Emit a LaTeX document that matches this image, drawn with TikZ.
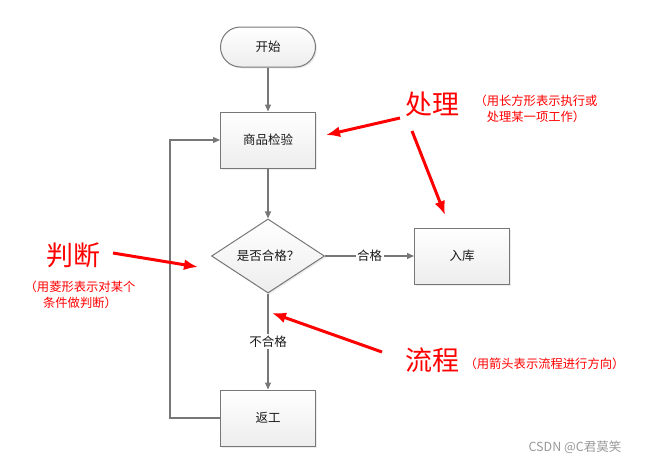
\documentclass[tikz,border=0pt]{standalone}
\usepackage{fontspec}
\setmainfont{Noto Sans CJK SC}
\usepackage{xcolor}
\usepackage{tikz}
\usetikzlibrary{shapes.geometric, arrows.meta, positioning, shadows}
\definecolor{edgegray}{HTML}{777777}
\definecolor{boxgray}{HTML}{EDEDED}
\definecolor{txtgray}{HTML}{1A1A1A}

\begin{document}
\begin{tikzpicture}[x=1pt, y=-1pt,
  box/.style={draw=edgegray, line width=1pt, top color=white, bottom color=boxgray,
    drop shadow={opacity=0.15, shadow xshift=1.5pt, shadow yshift=-1.5pt},
    text=txtgray, font=\fontsize{12.5}{15}\selectfont},
  proc/.style={box, minimum width=95pt, minimum height=56pt},
  term/.style={box, rounded corners=20pt, minimum width=95pt, minimum height=40pt},
  decision/.style={box, diamond, inner sep=0pt, minimum width=113pt, minimum height=65pt},
  flow/.style={draw=edgegray, line width=1.2pt, -{Triangle[length=7pt, width=6pt]}},
  flowlabel/.style={fill=white, inner sep=1.5pt, text=txtgray, font=\fontsize{12.5}{15}\selectfont},
  redarrow/.style={draw=red, line width=3pt, -{Latex[length=14pt, width=11pt]}},
  bigred/.style={text=red, font=\fontsize{27}{30}\selectfont},
  notered/.style={text=red, align=center, font=\fontsize{12.3}{16.5}\selectfont}]
  \useasboundingbox (0,0) rectangle (650,466);
  \node[term] (start) at (268,47) {开始};
  \node[proc] (check) at (268,140) {商品检验};
  \node[decision] (judge) at (268,256) {是否合格？};
  \node[proc] (store) at (462,256) {入库};
  \node[proc] (redo) at (268,418) {返工};
  \coordinate (loop) at (170,418);
  \draw[flow] (start) -- (check);
  \draw[flow] (check) -- (judge);
  \draw[flow] (judge) -- (store) node[midway, flowlabel] {合格};
  \draw[flow] (judge) -- (redo) node[midway, flowlabel] {不合格};
  \draw[flow] (redo.west) -- (loop) |- (check.west);
  \node[bigred] (chuli) at (432,104) {处理};
  \node[notered] (chulinote) at (536,109) {（用长方形表示执行或\\处理某一项工作）};
  \node[bigred] (panduan) at (73,255) {判断};
  \node[notered] (panduannote) at (80,295) {（用菱形表示对某个\\条件做判断）};
  \node[bigred] (liucheng) at (432,360) {流程};
  \node[notered, anchor=west] (liuchengnote) at (461,364) {（用箭头表示流程进行方向）};
  \coordinate (a1) at (400,118);
  \coordinate (t1) at (326,135);
  \coordinate (a2) at (412,131);
  \coordinate (t2) at (445,215);
  \coordinate (a3) at (113,253);
  \coordinate (t3) at (198,267);
  \coordinate (a4) at (382,352);
  \coordinate (t4) at (272,313);
  \draw[redarrow] (a1) -- (t1);
  \draw[redarrow] (a2) -- (t2);
  \draw[redarrow] (a3) -- (t3);
  \draw[redarrow] (a4) -- (t4);
  \node[text=gray!80, font=\fontsize{12.5}{15}\selectfont] (mark) at (575,447) {CSDN @C君莫笑};
\end{tikzpicture}
\end{document}
